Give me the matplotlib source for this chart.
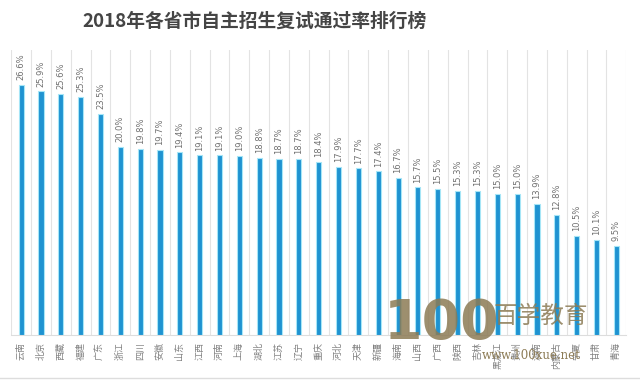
import matplotlib.pyplot as plt

plt.rcParams['font.family'] = ['Noto Sans CJK SC', 'DejaVu Sans']

# 各省市自主招生复试通过率 (%)
provinces = ['云南', '北京', '西藏', '福建', '广东', '浙江', '四川', '安徽', '山东', '江西',
             '河南', '上海', '湖北', '江苏', '辽宁', '重庆', '河北', '天津', '新疆', '海南',
             '山西', '广西', '陕西', '吉林', '黑龙江', '贵州', '湖南', '内蒙古', '宁夏', '甘肃', '青海']
rates = [26.6, 25.9, 25.6, 25.3, 23.5, 20.0, 19.8, 19.7, 19.4, 19.1,
         19.1, 19.0, 18.8, 18.7, 18.7, 18.4, 17.9, 17.7, 17.4, 16.7,
         15.7, 15.5, 15.3, 15.3, 15.0, 15.0, 13.9, 12.8, 10.5, 10.1, 9.5]

fig = plt.figure(figsize=(6.4, 3.81), dpi=100)
ax = fig.add_axes([0.0175, 0.121, 0.961, 0.748])

x = list(range(len(provinces)))
ax.bar(x, rates, width=0.26, color='#1f93d1', edgecolor='#a6e6f7', linewidth=0.8, zorder=3)

# 数值标签
for xi, v in zip(x, rates):
    ax.text(xi, v + 0.5, f'{v:.1f}%', rotation=90, ha='center', va='bottom',
            fontsize=6, color='#707070', family='DejaVu Sans')

# 类别分隔线
for b in range(len(provinces) + 1):
    ax.axvline(b - 0.5, color='#e3e3e3', lw=0.8, zorder=1)

ax.set_xlim(-0.5, len(provinces) - 0.5)
ax.set_ylim(0, 30.3)
ax.set_yticks([])
ax.set_xticks(x)
ax.set_xticklabels(provinces, rotation=90, fontsize=6.5, color='#808080', va='top')
ax.tick_params(axis='x', length=0, pad=5)
for s in ['top', 'right', 'left']:
    ax.spines[s].set_visible(False)
ax.spines['bottom'].set_color('#dddddd')

fig.text(0.398, 0.945, '2018年各省市自主招生复试通过率排行榜', ha='center', va='center',
         fontsize=13.5, fontweight='bold', color='#454545')

# 底部分隔线
fig.add_artist(plt.Line2D([0, 1], [0.008, 0.008], color='#dddddd', lw=1))

# 水印
fig.text(0.69, 0.15, '100', ha='center', va='center', fontsize=40, fontweight='bold',
         color='#8c7b55', alpha=0.85, family='DejaVu Sans')
fig.text(0.845, 0.17, '百学教育', ha='center', va='center', fontsize=17,
         color='#8c7b55', alpha=0.85)
fig.text(0.83, 0.068, 'www.100xue.net', ha='center', va='center', fontsize=8.5,
         color='#8c7b55', family='DejaVu Serif')

fig.savefig('out.png', dpi=100)
